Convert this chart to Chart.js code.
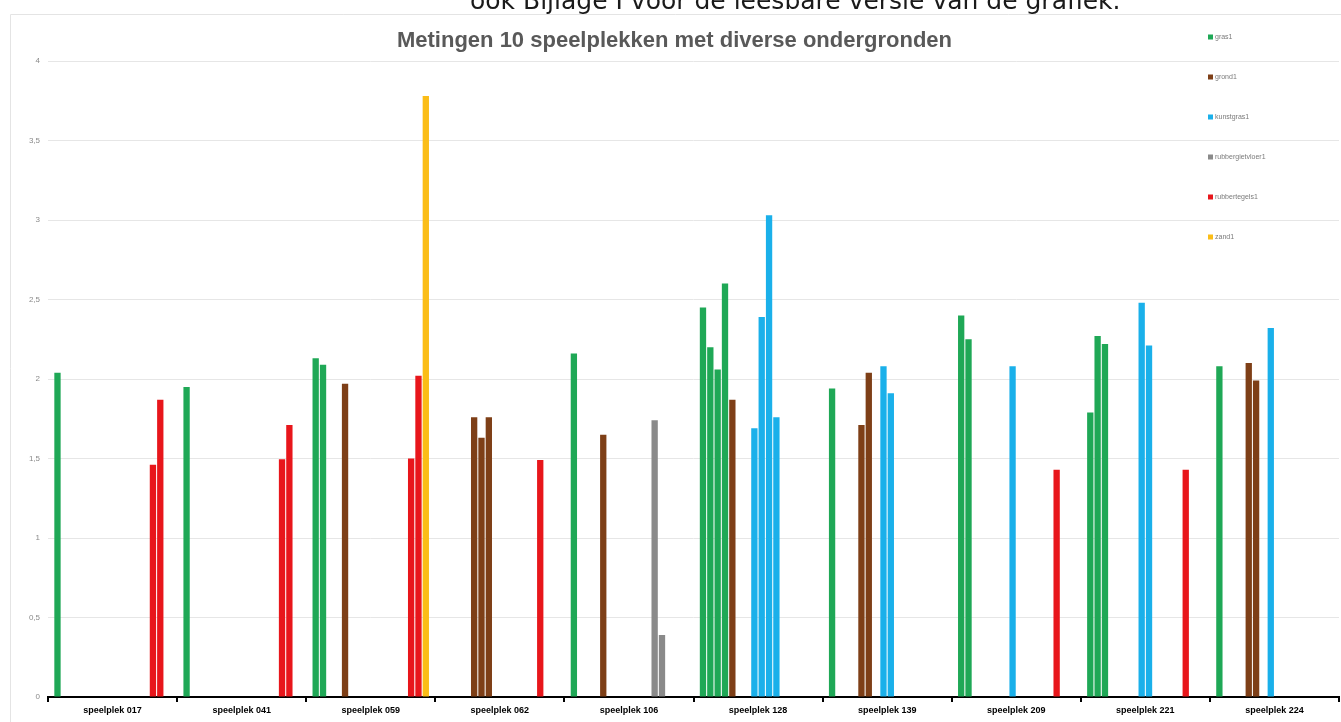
<!DOCTYPE html>
<html lang="nl">
<head>
<meta charset="utf-8">
<title>Metingen 10 speelplekken met diverse ondergronden</title>
<script src="https://cdn.jsdelivr.net/npm/chart.js@4.4.1/dist/chart.umd.min.js"></script>
<style>
  html, body { margin: 0; padding: 0; background: #ffffff; overflow: hidden; }
  #wrap { position: relative; width: 1341px; height: 722px; }
  #chart { position: absolute; left: 0; top: 0; }
  #note {
    position: absolute; left: 470px; top: -12px; white-space: nowrap;
    font-family: "DejaVu Sans", sans-serif; font-size: 25px; line-height: 25px;
    color: #1a1a1a; z-index: 2;
  }
</style>
</head>
<body>
<div id="wrap">
  <div id="note">ook Bijlage I voor de leesbare versie van de grafiek.</div>
  <canvas id="chart" width="1341" height="722"></canvas>
</div>
<script>
// Speelplekken (categories on the x axis)
const categories = [
  'speelplek 017', 'speelplek 041', 'speelplek 059', 'speelplek 062', 'speelplek 106',
  'speelplek 128', 'speelplek 139', 'speelplek 209', 'speelplek 221', 'speelplek 224'
];

// Measured values per ondergrond and meetpunt (null = no measurement)
const gras1 = [2.04, 1.95, 2.13, null, 2.16, 2.45, 1.94, 2.40, 1.79, 2.08];
const gras2 = [null, null, 2.09, null, null, 2.20, null, 2.25, 2.27, null];
const gras3 = [null, null, null, null, null, 2.06, null, null, 2.22, null];
const gras4 = [null, null, null, null, null, 2.60, null, null, null, null];

const grond1 = [null, null, 1.97, 1.76, 1.65, 1.87, 1.71, null, null, 2.10];
const grond2 = [null, null, null, 1.63, null, null, 2.04, null, null, 1.99];
const grond3 = [null, null, null, 1.76, null, null, null, null, null, null];

const kunstgras1 = [null, null, null, null, null, 1.69, 2.08, 2.08, 2.48, 2.32];
const kunstgras2 = [null, null, null, null, null, 2.39, 1.91, null, 2.21, null];
const kunstgras3 = [null, null, null, null, null, 3.03, null, null, null, null];
const kunstgras4 = [null, null, null, null, null, 1.76, null, null, null, null];

const rubbergietvloer1 = [null, null, null, null, 1.74, null, null, null, null, null];
const rubbergietvloer2 = [null, null, null, null, 0.39, null, null, null, null, null];

const rubbertegels1 = [1.46, 1.495, 1.50, 1.49, null, null, null, 1.43, 1.43, null];
const rubbertegels2 = [1.87, 1.71, 2.02, null, null, null, null, null, null, null];

const zand1 = [null, null, 3.78, null, null, null, null, null, null, null];

// Y axis tick values
const yTicks = [0, 0.5, 1, 1.5, 2, 2.5, 3, 3.5, 4];

// Series names shown in the legend
const legendNames = ['gras1', 'grond1', 'kunstgras1', 'rubbergietvloer1', 'rubbertegels1', 'zand1'];

const colors = {
  gras: '#1fa856',
  grond: '#7e3f17',
  kunstgras: '#1ab0ea',
  rubbergietvloer: '#8a8a8a',
  rubbertegels: '#e8161b',
  zand: '#fbbd17'
};

const series = [
  ['gras1', gras1, colors.gras], ['gras2', gras2, colors.gras],
  ['gras3', gras3, colors.gras], ['gras4', gras4, colors.gras],
  ['grond1', grond1, colors.grond], ['grond2', grond2, colors.grond],
  ['grond3', grond3, colors.grond],
  ['kunstgras1', kunstgras1, colors.kunstgras], ['kunstgras2', kunstgras2, colors.kunstgras],
  ['kunstgras3', kunstgras3, colors.kunstgras], ['kunstgras4', kunstgras4, colors.kunstgras],
  ['rubbergietvloer1', rubbergietvloer1, colors.rubbergietvloer],
  ['rubbergietvloer2', rubbergietvloer2, colors.rubbergietvloer],
  ['rubbertegels1', rubbertegels1, colors.rubbertegels],
  ['rubbertegels2', rubbertegels2, colors.rubbertegels],
  ['zand1', zand1, colors.zand]
];

const datasets = series.map(([label, data, color]) => ({
  label: label,
  data: data,
  backgroundColor: color,
  borderWidth: 0,
  categoryPercentage: 0.91,
  barPercentage: 0.86
}));

// Chart frame: thin light border on the top and left side
const framePlugin = {
  id: 'frame',
  beforeDraw(chart) {
    const ctx = chart.ctx;
    ctx.save();
    ctx.strokeStyle = '#e4e4e4';
    ctx.lineWidth = 1;
    ctx.beginPath();
    ctx.moveTo(10.5, 722);
    ctx.lineTo(10.5, 14.5);
    ctx.lineTo(1341, 14.5);
    ctx.stroke();
    ctx.restore();
  }
};

// Legend drawn as a vertical column inside the plot area
const sideLegend = {
  id: 'sideLegend',
  afterDraw(chart) {
    const ctx = chart.ctx;
    ctx.save();
    ctx.font = '7px "Liberation Sans", sans-serif';
    ctx.textBaseline = 'middle';
    ctx.textAlign = 'left';
    legendNames.forEach((name, i) => {
      const ds = chart.data.datasets.find(d => d.label === name);
      const y = 37 + i * 40;
      ctx.fillStyle = ds.backgroundColor;
      ctx.fillRect(1208, y - 2.5, 5, 5);
      ctx.fillStyle = '#7a7a7a';
      ctx.fillText(name, 1215, y);
    });
    ctx.restore();
  }
};

new Chart(document.getElementById('chart'), {
  type: 'bar',
  data: { labels: categories, datasets: datasets },
  plugins: [framePlugin, sideLegend],
  options: {
    responsive: false,
    animation: false,
    devicePixelRatio: 1,
    locale: 'nl-NL',
    layout: { padding: { left: 10, right: 2, top: 0, bottom: 0 } },
    plugins: {
      legend: { display: false },
      tooltip: { enabled: false },
      title: {
        display: true,
        text: 'Metingen 10 speelplekken met diverse ondergronden',
        color: '#595959',
        font: { family: '"Liberation Sans", sans-serif', size: 22, weight: 'bold', lineHeight: 1.2 },
        padding: { top: 28, bottom: 6.6 }
      }
    },
    scales: {
      x: {
        offset: true,
        grid: {
          display: true,
          offset: true,
          drawOnChartArea: false,
          drawTicks: true,
          tickLength: 5,
          color: '#000000',
          lineWidth: 2
        },
        border: { display: true, color: '#000000', width: 2 },
        ticks: {
          color: '#000000',
          padding: 3,
          maxRotation: 0,
          autoSkip: false,
          font: { family: '"Liberation Sans", sans-serif', size: 9, weight: 'bold' }
        },
        afterFit(scale) { scale.height = 25; }
      },
      y: {
        min: 0,
        max: 4,
        afterBuildTicks(scale) { scale.ticks = yTicks.map(v => ({ value: v })); },
        grid: { color: '#e6e6e6', lineWidth: 1, drawTicks: false },
        border: { display: false },
        ticks: {
          color: '#8a8a8a',
          padding: 8,
          font: { family: '"Liberation Sans", sans-serif', size: 8 },
          callback: v => String(v).replace('.', ',')
        },
        afterFit(scale) { scale.width = 38; }
      }
    }
  }
});
</script>
</body>
</html>
